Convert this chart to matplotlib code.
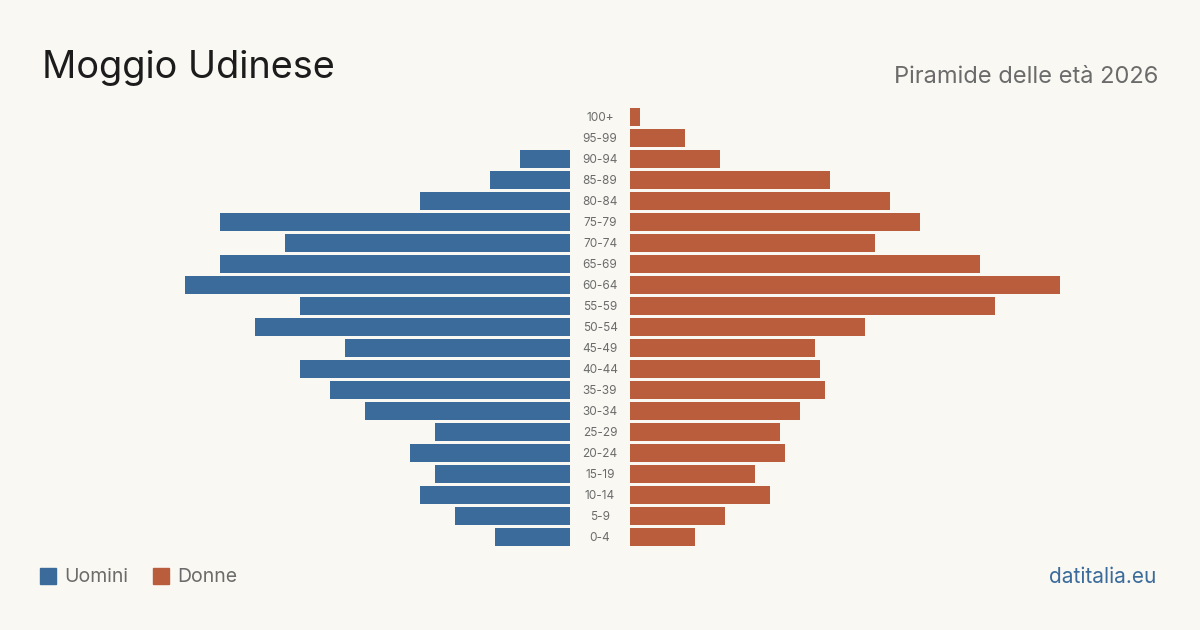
import matplotlib
matplotlib.use("Agg")
import matplotlib.pyplot as plt
from matplotlib.patches import Rectangle

plt.rcParams['font.family'] = ['Inter', 'DejaVu Sans']

# age classes from youngest to oldest
ages = ["0-4", "5-9", "10-14", "15-19", "20-24", "25-29", "30-34", "35-39",
        "40-44", "45-49", "50-54", "55-59", "60-64", "65-69", "70-74",
        "75-79", "80-84", "85-89", "90-94", "95-99", "100+"]
men = [15, 23, 30, 27, 32, 27, 41, 48, 54, 45, 63, 54, 77, 70, 57,
       70, 30, 16, 10, 0, 0]
women = [13, 19, 28, 25, 31, 30, 34, 39, 38, 37, 47, 73, 86, 70, 49,
         58, 52, 40, 18, 11, 2]

title = "Moggio Udinese"
subtitle = "Piramide delle età 2026"
source = "datitalia.eu"

bg = "#f9f8f3"
blue = "#3b6b9b"
red = "#b95d3c"
grey = "#6b6b6b"

fig = plt.figure(figsize=(12, 6.3), dpi=100, facecolor=bg)
ax = fig.add_axes([0, 82.5 / 630, 1, 441 / 630])
ax.set_facecolor(bg)

gap = 6  # half of the central label column, in data units
y = list(range(len(ages)))
ax.barh(y, [-m for m in men], left=-gap, height=0.81, color=blue)
ax.barh(y, women, left=gap, height=0.81, color=red)
for yi, lab in zip(y, ages):
    ax.text(0, yi - 0.05, lab, ha="center", va="center", fontsize=8.5, color=grey)

ax.set_xlim(-120, 120)
ax.set_ylim(-0.5, len(ages) - 0.5)
ax.axis("off")

fig.text(42 / 1200, 1 - 68 / 630, title, fontsize=27.3, color="#1c1c1c",
         ha="left", va="center")
fig.text(1158 / 1200, 1 - 77 / 630, subtitle, fontsize=17, color=grey,
         ha="right", va="center")

# legend
for x0, col, lab in [(40, blue, "Uomini"), (153, red, "Donne")]:
    fig.patches.append(Rectangle((x0 / 1200, 1 - 584 / 630), 16 / 1200, 16 / 630,
                                 transform=fig.transFigure, color=col))
    fig.text((x0 + 24) / 1200, 1 - 577 / 630, lab, fontsize=14, color=grey,
             ha="left", va="center")

fig.text(1156 / 1200, 1 - 577 / 630, source, fontsize=15, color=blue,
         ha="right", va="center")

fig.savefig("out.png", dpi=100, facecolor=bg)
